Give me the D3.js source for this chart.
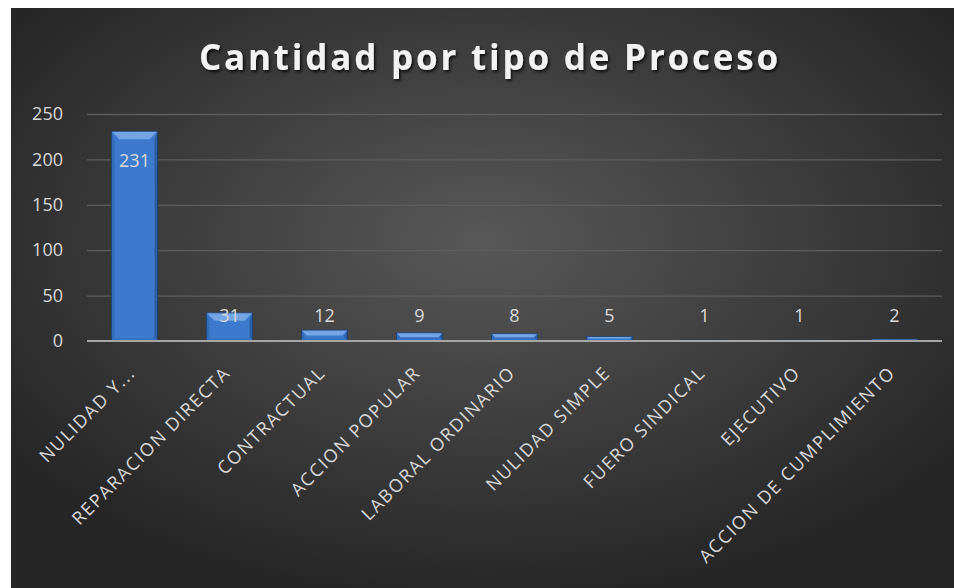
<!DOCTYPE html>
<html>
<head>
<meta charset="utf-8">
<script src="https://d3js.org/d3.v7.min.js"></script>
<style>
  body { margin: 0; background: #ffffff; }
  svg { display: block; }
</style>
</head>
<body>
<div id="chart"></div>
<script>
//////////////////////// data ////////////////////////
var categories = ["NULIDAD Y...", "REPARACION DIRECTA", "CONTRACTUAL", "ACCION POPULAR",
  "LABORAL ORDINARIO", "NULIDAD SIMPLE", "FUERO SINDICAL", "EJECUTIVO", "ACCION DE CUMPLIMIENTO"];
var counts = [231, 31, 12, 9, 8, 5, 1, 1, 2];
var yTicks = [0, 50, 100, 150, 200, 250];
var title = "Cantidad por tipo de Proceso";

//////////////////////// layout ////////////////////////
var wdim = 954, hdim = 588;
var plot = {left: 87, right: 942, top: 114, bottom: 341};
var font = "'Open Sans', 'DejaVu Sans', sans-serif";

var svg = d3.select("#chart").append("svg")
  .attr("width", wdim)
  .attr("height", hdim);

var defs = svg.append("defs");
var bg = defs.append("radialGradient")
  .attr("id", "bg")
  .attr("cx", "0.5").attr("cy", "0.4").attr("r", "0.62");
bg.append("stop").attr("offset", "0").attr("stop-color", "#585858");
bg.append("stop").attr("offset", "1").attr("stop-color", "#262626");

var shadow = defs.append("filter").attr("id", "tshadow")
  .attr("x", "-10%").attr("y", "-30%").attr("width", "120%").attr("height", "160%");
shadow.append("feDropShadow")
  .attr("dx", 1.5).attr("dy", 2).attr("stdDeviation", 1.5)
  .attr("flood-color", "#000").attr("flood-opacity", 0.8);

// chart area
svg.append("rect")
  .attr("x", 11).attr("y", 8)
  .attr("width", wdim - 11).attr("height", hdim - 8)
  .attr("fill", "url(#bg)");

// title
svg.append("text")
  .attr("x", 490).attr("y", 70)
  .attr("text-anchor", "middle")
  .attr("font-family", font)
  .attr("font-weight", "bold")
  .attr("font-size", "35px")
  .attr("letter-spacing", "2.8px")
  .attr("fill", "#f2f2f2")
  .attr("filter", "url(#tshadow)")
  .text(title);

//////////////////////// scales ////////////////////////
var x = d3.scaleBand()
  .domain(categories)
  .range([plot.left, plot.right])
  .paddingInner(0.515)
  .paddingOuter(0.2575);

var y = d3.scaleLinear()
  .domain([0, 250])
  .range([plot.bottom, plot.top]);

//////////////////////// gridlines + y axis ////////////////////////
var yAxis = d3.axisLeft(y)
  .tickValues(yTicks)
  .tickSize(-(plot.right - plot.left))
  .tickPadding(24);

var gy = svg.append("g")
  .attr("transform", "translate(" + plot.left + ",0)")
  .call(yAxis);
gy.select(".domain").remove();
gy.selectAll(".tick line")
  .attr("stroke", "#5e5e5e")
  .attr("stroke-width", 1.3)
  .attr("opacity", function(d){ return d === 0 ? 0 : 1; });
gy.selectAll(".tick text")
  .attr("fill", "#d9d9d9")
  .attr("font-family", font)
  .attr("font-size", "18px");

//////////////////////// bars ////////////////////////
function bevelBar(g, x0, y0, w, h) {
  var b = Math.min(8, h / 2);
  var s = Math.min(3, h / 2);
  g.append("rect").attr("x", x0).attr("y", y0).attr("width", w).attr("height", h)
    .attr("fill", "#3d79cc");
  if (h <= 0.5) return;
  // top facet
  g.append("path")
    .attr("d", "M" + x0 + "," + y0 + "L" + (x0 + w) + "," + y0 + "L" + (x0 + w - b) + "," + (y0 + b) +
      "L" + (x0 + b) + "," + (y0 + b) + "Z")
    .attr("fill", "#74a6e6");
  // bottom facet
  g.append("path")
    .attr("d", "M" + x0 + "," + (y0 + h) + "L" + (x0 + w) + "," + (y0 + h) + "L" + (x0 + w - s) + "," + (y0 + h - s) +
      "L" + (x0 + s) + "," + (y0 + h - s) + "Z")
    .attr("fill", "#3670be");
  // left facet
  g.append("path")
    .attr("d", "M" + x0 + "," + y0 + "L" + (x0 + s) + "," + (y0 + b) + "L" + (x0 + s) + "," + (y0 + h - s) +
      "L" + x0 + "," + (y0 + h) + "Z")
    .attr("fill", "#336cb8");
  // right facet
  g.append("path")
    .attr("d", "M" + (x0 + w) + "," + y0 + "L" + (x0 + w - s) + "," + (y0 + b) + "L" + (x0 + w - s) + "," + (y0 + h - s) +
      "L" + (x0 + w) + "," + (y0 + h) + "Z")
    .attr("fill", "#2a5ea6");
  g.append("rect").attr("x", x0).attr("y", y0).attr("width", w).attr("height", h)
    .attr("fill", "none").attr("stroke", "#1d3e6c").attr("stroke-width", 0.8);
}

var bars = svg.append("g");
categories.forEach(function(c, i) {
  var g = bars.append("g").attr("class", "bar");
  var top = y(counts[i]);
  bevelBar(g, x(c), top, x.bandwidth(), y(0) - top);
});

// zero axis line
svg.append("line")
  .attr("x1", plot.left).attr("x2", plot.right)
  .attr("y1", y(0)).attr("y2", y(0))
  .attr("stroke", "#a6a6a6")
  .attr("stroke-width", 2);

//////////////////////// data labels ////////////////////////
svg.append("g").selectAll("text")
  .data(counts)
  .join("text")
  .attr("x", function(d, i){ return x(categories[i]) + x.bandwidth() / 2; })
  .attr("y", function(d){ return Math.min(y(d) + 29, y(0) - 25); })
  .attr("dy", "0.35em")
  .attr("text-anchor", "middle")
  .attr("fill", "#d9d9d9")
  .attr("font-family", font)
  .attr("font-size", "18px")
  .text(function(d){ return d; });

//////////////////////// category labels ////////////////////////
svg.append("g").selectAll("text")
  .data(categories)
  .join("text")
  .attr("transform", function(d){
    return "translate(" + (x(d) + x.bandwidth() / 2 + 2) + "," + (y(0) + 33) + ") rotate(-45)";
  })
  .attr("text-anchor", "end")
  .attr("fill", "#d9d9d9")
  .attr("font-family", font)
  .attr("font-size", "18px")
  .attr("letter-spacing", "1.6px")
  .text(function(d){ return d; });
</script>
</body>
</html>
